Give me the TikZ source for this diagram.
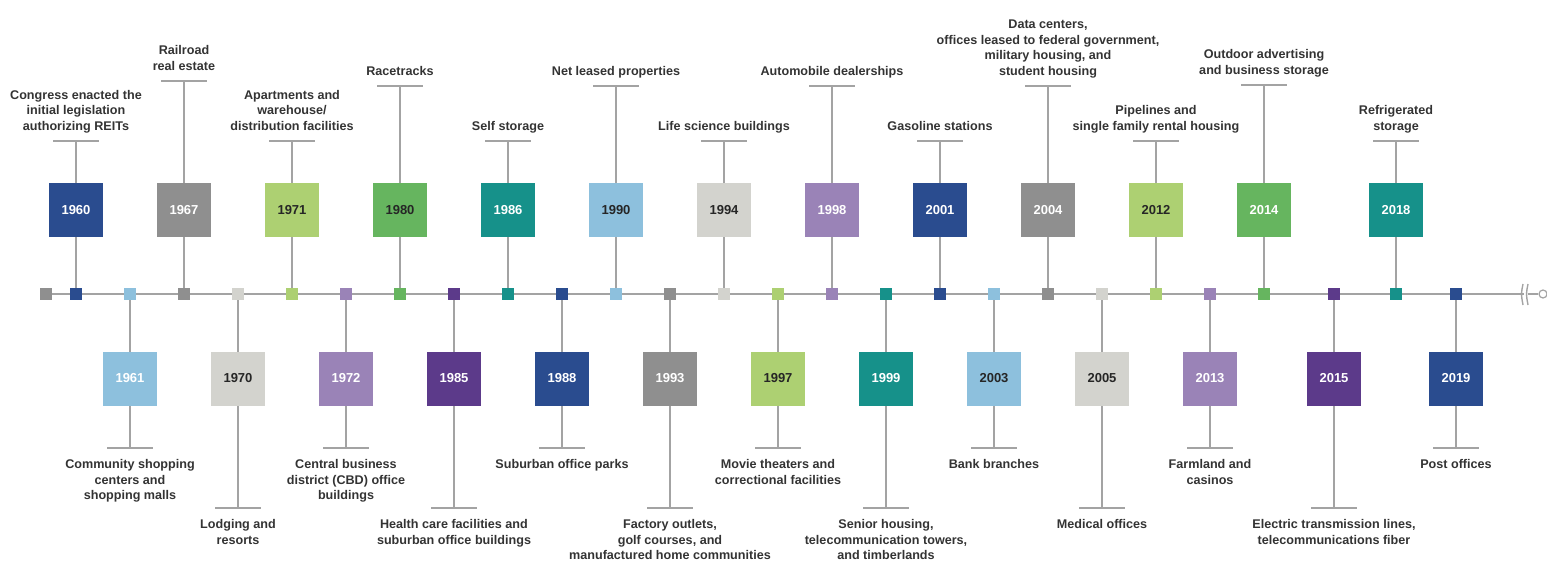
\documentclass[tikz,border=0pt]{standalone}
\usepackage{fontspec}
\setmainfont{Liberation Sans}
\usetikzlibrary{positioning}

\definecolor{navy}{HTML}{2A4C8F}
\definecolor{skyblue}{HTML}{8DC0DD}
\definecolor{midgray}{HTML}{8F8F8F}
\definecolor{stone}{HTML}{D3D3CE}
\definecolor{lime}{HTML}{ADD072}
\definecolor{lavender}{HTML}{9A83B7}
\definecolor{leaf}{HTML}{66B55F}
\definecolor{plum}{HTML}{5C3A8A}
\definecolor{teal}{HTML}{16918A}
\definecolor{linegray}{HTML}{A3A3A3}
\definecolor{darktext}{HTML}{262626}
\definecolor{labeltext}{HTML}{333333}

\begin{document}
\begin{tikzpicture}[x = 1pt, y = -1pt,
	axis/.style = {draw = linegray, line width = 2.2pt},
	stem/.style = {draw = linegray, line width = 1.4pt},
	marker/.style = {minimum size = 12pt, inner sep = 0pt},
	yearbox/.style = {minimum size = 54pt, inner sep = 0pt, font = \fontsize{13}{15}\selectfont\bfseries},
	event/.style = {align = center, inner sep = 0pt, text = labeltext, font = \fontsize{12.6}{15.5}\selectfont\bfseries}
]
	%	canvas
	\useasboundingbox (0, 0) rectangle (1547, 562);
	
	\def\axisy{294}
	\def\topbox{210}
	\def\botbox{378.5}
	\def\bar{23}
	
	%	axis
	\node[marker, fill = midgray] (start) at (46, \axisy) {};
	\coordinate (brk) at (1524, \axisy);
	\node[circle, draw = linegray, line width = 1.2pt, fill = white, minimum size = 8pt, inner sep = 0pt] (end) at (1543, \axisy) {};
	\draw[axis] (start) -- (brk);
	\draw[stem] (1523, 284) .. controls (1521, 294) .. (1523, 305);
	\draw[stem] (1528, 284) .. controls (1526, 294) .. (1528, 305);
	\coordinate (brk2) at (1528, \axisy);
	\draw[stem] (brk2) -- (end);
	
	%	events above the axis
	\foreach \x/\yr/\col/\txt/\tk/\lab in {
		76/1960/navy/white/141/{Congress enacted the\\initial legislation\\authorizing REITs},
		184/1967/midgray/white/81/{Railroad\\real estate},
		292/1971/lime/darktext/141/{Apartments and\\warehouse/\\distribution facilities},
		400/1980/leaf/darktext/86/{Racetracks},
		508/1986/teal/white/141/{Self storage},
		616/1990/skyblue/darktext/86/{Net leased properties},
		724/1994/stone/darktext/141/{Life science buildings},
		832/1998/lavender/white/86/{Automobile dealerships},
		940/2001/navy/white/141/{Gasoline stations},
		1048/2004/midgray/white/86/{Data centers,\\offices leased to federal government,\\military housing, and\\student housing},
		1156/2012/lime/darktext/141/{Pipelines and\\single family rental housing},
		1264/2014/leaf/white/85/{Outdoor advertising\\and business storage},
		1396/2018/teal/white/141/{Refrigerated\\storage}}
	{
		\node[marker, fill = \col] (m\yr) at (\x, \axisy) {};
		\coordinate (t\yr) at (\x, \tk);
		\draw[stem] (m\yr) -- (t\yr);
		\draw[stem] ([xshift = -\bar pt]t\yr) -- ([xshift = \bar pt]t\yr);
		\node[yearbox, fill = \col, text = \txt] (y\yr) at (\x, \topbox) {\yr};
		\node[event, text depth = 0pt, anchor = south] (l\yr) at ([yshift = 10.5pt]t\yr) {\lab};
	}
	
	%	events below the axis
	\foreach \x/\yr/\col/\txt/\tk/\lab in {
		130/1961/skyblue/white/448/{Community shopping\\centers and\\shopping malls},
		238/1970/stone/darktext/508/{Lodging and\\resorts},
		346/1972/lavender/white/448/{Central business\\district (CBD) office\\buildings},
		454/1985/plum/white/508/{Health care facilities and\\suburban office buildings},
		562/1988/navy/white/448/{Suburban office parks},
		670/1993/midgray/white/508/{Factory outlets,\\golf courses, and\\manufactured home communities},
		778/1997/lime/darktext/448/{Movie theaters and\\correctional facilities},
		886/1999/teal/white/508/{Senior housing,\\telecommunication towers,\\and timberlands},
		994/2003/skyblue/darktext/448/{Bank branches},
		1102/2005/stone/darktext/508/{Medical offices},
		1210/2013/lavender/white/448/{Farmland and\\casinos},
		1334/2015/plum/white/508/{Electric transmission lines,\\telecommunications fiber},
		1456/2019/navy/white/448/{Post offices}}
	{
		\node[marker, fill = \col] (m\yr) at (\x, \axisy) {};
		\coordinate (t\yr) at (\x, \tk);
		\draw[stem] (m\yr) -- (t\yr);
		\draw[stem] ([xshift = -\bar pt]t\yr) -- ([xshift = \bar pt]t\yr);
		\node[yearbox, fill = \col, text = \txt] (y\yr) at (\x, \botbox) {\yr};
		\node[event, anchor = north] (l\yr) at ([yshift = -11.5pt]t\yr) {\lab};
	}
\end{tikzpicture}
\end{document}
